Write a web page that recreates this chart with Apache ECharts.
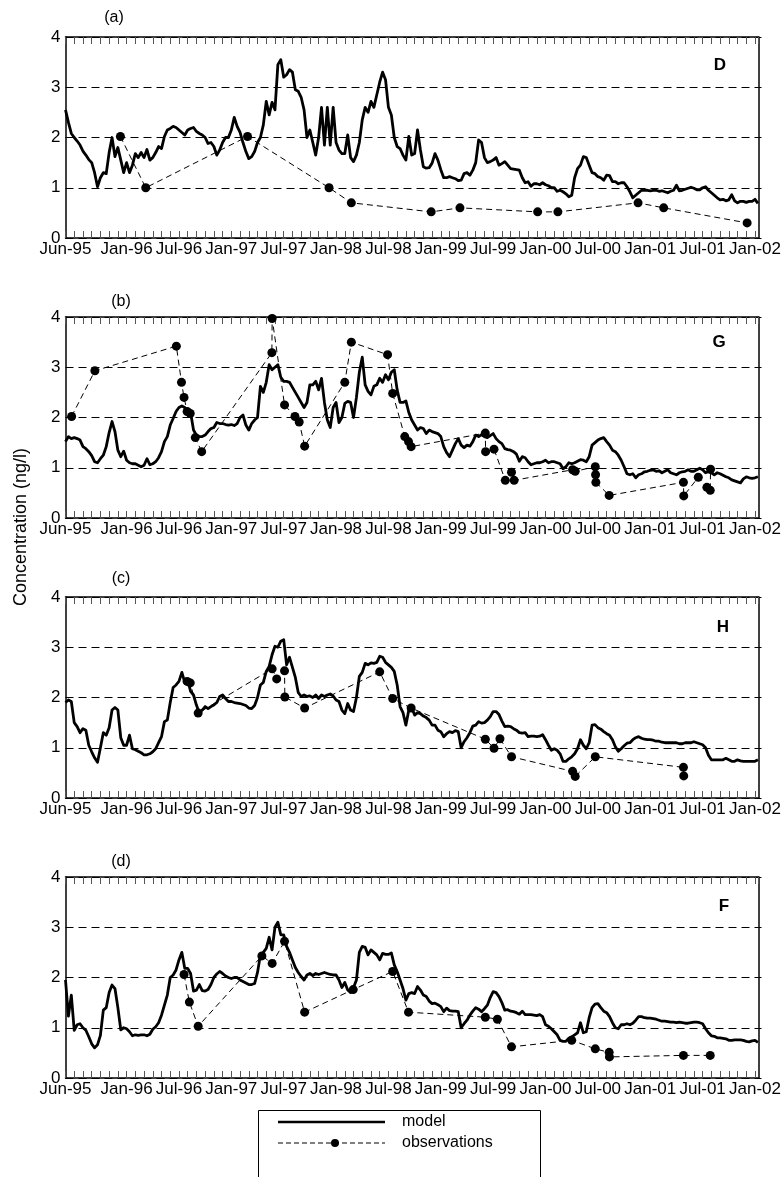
<!DOCTYPE html>
<html><head><meta charset="utf-8">
<script src="https://cdn.jsdelivr.net/npm/echarts@6/dist/echarts.min.js"></script>
<style>html,body{margin:0;padding:0;background:#fff}#c{width:784px;height:1177px}</style>
</head><body><div id="c"></div>
<script>
// ---------- data ----------
const xTickLabels = ['Jun-95','Jan-96','Jul-96','Jan-97','Jul-97','Jan-98','Jul-98','Jan-99','Jul-99','Jan-00','Jul-00','Jan-01','Jul-01','Jan-02'];
const yTickValues = [0, 1, 2, 3, 4];
const panelTags = ['(a)', '(b)', '(c)', '(d)'];
const siteNames = ['D', 'G', 'H', 'F'];
const legendNames = ['model', 'observations'];
const yAxisTitle = 'Concentration (ng/l)';

// model: one value every 1/3 month starting 1 Jun 1995
const modelStartDate = '1995-06-01';
const modelStepMonths = 1 / 3;
const modelD = [
2.55,2.3,2.08,2.0,1.93,1.85,1.73,1.65,1.56,1.5,
1.3,1.02,1.2,1.3,1.28,1.7,2.0,1.62,1.8,1.55,
1.3,1.5,1.3,1.45,1.68,1.6,1.7,1.6,1.76,1.55,
1.6,1.7,1.82,1.78,2.02,2.15,2.18,2.22,2.2,2.15,
2.1,2.05,2.15,2.18,2.2,2.12,2.08,2.05,2.0,1.88,
1.9,1.82,1.65,1.75,1.9,2.0,2.0,2.15,2.4,2.22,
2.1,1.9,1.72,1.58,1.62,1.72,1.9,2.0,2.25,2.72,
2.45,2.7,2.55,3.45,3.55,3.2,3.25,3.35,3.3,2.95,
2.92,2.8,2.55,2.0,2.15,1.9,1.65,2.0,2.6,1.85,
2.6,1.85,2.6,1.9,1.75,1.68,1.68,2.05,1.6,1.52,
1.65,1.9,2.35,2.6,2.5,2.72,2.6,2.85,3.1,3.3,
3.15,2.6,2.45,2.0,1.82,1.78,1.65,1.55,2.02,1.65,
1.68,2.15,1.75,1.42,1.39,1.4,1.49,1.68,1.55,1.36,
1.2,1.2,1.22,1.2,1.18,1.14,1.15,1.28,1.3,1.25,
1.35,1.5,1.95,1.9,1.6,1.5,1.52,1.55,1.6,1.45,
1.48,1.52,1.45,1.38,1.37,1.36,1.35,1.2,1.1,1.12,
1.03,1.08,1.08,1.06,1.1,1.06,1.04,1.0,1.0,0.93,
0.95,0.92,0.88,0.82,0.85,1.2,1.38,1.45,1.62,1.6,
1.45,1.3,1.28,1.22,1.2,1.15,1.25,1.24,1.12,1.12,
1.08,1.1,1.1,1.02,0.92,0.8,0.85,0.9,0.95,0.95,
0.95,0.94,0.95,0.95,0.93,0.94,0.92,0.9,0.93,0.95,
1.05,0.94,0.95,0.97,0.99,1.01,0.99,0.96,0.96,1.0,
1.02,0.95,0.9,0.85,0.8,0.76,0.77,0.74,0.76,0.86,
0.74,0.7,0.73,0.73,0.71,0.73,0.73,0.77,0.69];
const modelG = [
1.52,1.62,1.58,1.6,1.58,1.55,1.42,1.38,1.32,1.24,
1.12,1.1,1.18,1.25,1.42,1.7,1.92,1.72,1.35,1.22,
1.33,1.15,1.1,1.08,1.08,1.05,1.02,1.05,1.18,1.06,
1.08,1.12,1.2,1.32,1.52,1.62,1.85,1.98,2.12,2.2,
2.23,2.2,2.15,2.1,1.75,1.65,1.62,1.62,1.65,1.72,
1.78,1.8,1.9,1.88,1.88,1.86,1.85,1.86,1.84,1.88,
2.0,2.05,1.85,1.75,1.88,1.95,2.0,2.62,2.5,2.7,
3.05,2.95,3.0,3.05,2.8,2.72,2.72,2.7,2.6,2.5,
2.4,2.3,2.2,2.3,2.65,2.65,2.72,2.55,2.78,2.3,
1.95,1.8,2.2,2.3,1.9,2.0,2.28,2.32,2.3,2.0,
2.4,2.9,3.2,2.65,2.52,2.45,2.62,2.65,2.78,2.7,
2.85,2.75,2.9,2.95,2.55,2.3,2.3,2.33,2.1,1.95,
1.85,1.75,1.8,1.78,1.68,1.75,1.72,1.7,1.68,1.62,
1.42,1.3,1.22,1.35,1.48,1.58,1.45,1.4,1.45,1.43,
1.52,1.65,1.62,1.66,1.62,1.6,1.64,1.68,1.58,1.52,
1.48,1.38,1.36,1.35,1.32,1.27,1.13,1.22,1.2,1.12,
1.06,1.08,1.1,1.1,1.12,1.15,1.1,1.12,1.12,1.1,
1.08,0.98,1.02,1.1,1.08,1.1,1.13,1.16,1.15,1.12,
1.22,1.45,1.5,1.55,1.58,1.6,1.52,1.45,1.35,1.32,
1.25,1.15,1.02,0.88,0.86,0.88,0.8,0.86,0.88,0.92,
0.93,0.95,0.96,0.93,0.94,0.9,0.93,0.96,0.9,0.88,
0.86,0.9,0.92,0.93,0.96,0.93,0.93,0.96,0.99,0.96,
0.9,0.92,0.9,0.86,0.9,0.88,0.85,0.82,0.8,0.76,
0.74,0.72,0.7,0.78,0.82,0.8,0.79,0.8,0.82];
const modelH = [
1.9,1.95,1.92,1.5,1.42,1.3,1.38,1.35,1.05,0.92,
0.8,0.71,1.0,1.3,1.25,1.4,1.75,1.8,1.75,1.2,
1.05,1.05,1.25,0.98,0.96,0.93,0.9,0.86,0.86,0.88,
0.92,0.98,1.1,1.22,1.52,1.55,1.9,2.2,2.25,2.32,
2.5,2.3,2.35,2.12,2.05,1.85,1.69,1.75,1.82,1.78,
1.82,1.85,1.9,2.02,2.05,1.98,1.92,1.92,1.9,1.89,
1.88,1.86,1.84,1.79,1.78,1.84,2.0,2.25,2.3,2.52,
2.62,2.85,3.02,3.0,3.12,3.15,2.65,2.8,2.6,2.4,
2.1,2.02,2.05,2.02,2.03,2.0,2.05,1.98,2.05,2.02,
2.05,2.07,2.03,1.95,1.92,1.75,1.68,1.88,1.75,1.72,
2.0,2.42,2.5,2.68,2.65,2.69,2.68,2.7,2.82,2.8,
2.7,2.65,2.6,2.52,2.25,1.82,1.7,1.45,1.75,1.8,
1.65,1.7,1.68,1.63,1.6,1.55,1.45,1.45,1.35,1.32,
1.22,1.28,1.32,1.3,1.34,1.32,1.0,1.12,1.2,1.3,
1.43,1.45,1.52,1.49,1.5,1.55,1.62,1.72,1.72,1.66,
1.53,1.42,1.43,1.42,1.38,1.35,1.3,1.29,1.3,1.22,
1.23,1.23,1.22,1.23,1.26,1.16,1.05,0.95,0.98,0.95,
0.88,0.73,0.73,0.78,0.82,0.88,0.98,1.16,1.05,0.98,
1.1,1.45,1.46,1.4,1.37,1.32,1.28,1.25,1.16,1.02,
0.93,0.98,1.04,1.09,1.1,1.16,1.2,1.22,1.19,1.17,
1.16,1.16,1.15,1.13,1.13,1.11,1.1,1.1,1.1,1.1,
1.1,1.08,1.08,1.1,1.1,1.1,1.12,1.1,1.08,1.06,
1.0,0.85,0.76,0.76,0.76,0.76,0.76,0.79,0.76,0.73,
0.73,0.76,0.74,0.73,0.73,0.73,0.73,0.73,0.76];
const modelF = [
1.95,1.23,1.65,0.95,1.06,1.08,1.0,0.95,0.82,0.68,
0.6,0.66,0.85,1.35,1.4,1.7,1.85,1.78,1.4,0.96,
1.0,0.98,0.92,0.84,0.86,0.85,0.86,0.86,0.84,0.87,
0.97,1.02,1.1,1.25,1.45,1.65,2.0,2.05,2.15,2.35,
2.5,2.18,2.18,2.08,1.73,1.75,1.86,1.74,1.73,1.76,
1.86,2.0,2.07,2.12,2.08,2.03,2.0,1.98,2.0,2.0,
1.95,1.92,1.89,1.86,1.86,1.88,2.1,2.45,2.5,2.58,
2.8,2.55,3.0,3.1,2.85,2.85,2.62,2.5,2.35,2.2,
2.1,2.02,1.95,2.05,2.08,2.04,2.08,2.06,2.08,2.1,
2.08,2.06,2.05,2.05,1.95,1.8,1.9,1.75,1.7,1.8,
1.95,2.5,2.62,2.6,2.45,2.55,2.5,2.45,2.35,2.48,
2.46,2.46,2.49,2.25,2.12,1.95,1.78,1.55,1.68,1.7,
1.68,1.82,1.75,1.65,1.62,1.53,1.48,1.49,1.46,1.42,
1.32,1.39,1.34,1.33,1.33,1.32,1.0,1.08,1.15,1.25,
1.33,1.4,1.37,1.32,1.38,1.45,1.6,1.72,1.7,1.62,
1.5,1.35,1.36,1.33,1.32,1.3,1.27,1.33,1.26,1.26,
1.26,1.25,1.24,1.26,1.22,1.06,1.03,0.98,0.92,0.86,
0.75,0.73,0.73,0.79,0.82,0.86,0.9,1.1,0.9,0.92,
1.2,1.4,1.47,1.48,1.4,1.33,1.3,1.22,1.1,1.0,
0.98,1.06,1.06,1.08,1.06,1.09,1.15,1.22,1.22,1.2,
1.19,1.19,1.18,1.17,1.15,1.13,1.13,1.12,1.11,1.11,
1.1,1.11,1.1,1.09,1.09,1.1,1.11,1.11,1.1,1.08,
0.98,0.9,0.84,0.83,0.8,0.8,0.79,0.78,0.75,0.75,
0.76,0.76,0.76,0.75,0.73,0.72,0.74,0.75,0.71];

// observations
const obsDatesD = ['1995-12-10','1996-03-07','1997-02-25','1997-12-07','1998-02-22','1998-11-28','1999-03-07','1999-12-04','2000-02-13','2000-11-19','2001-02-16','2001-12-04'];
const obsValuesD = [2.02,1.0,2.02,1.0,0.7,0.52,0.6,0.52,0.52,0.7,0.6,0.3];

const obsDatesG = ['1995-06-22','1995-09-12','1996-06-22','1996-07-10','1996-07-19','1996-07-30','1996-08-10','1996-08-28','1996-09-19','1997-05-21','1997-05-22','1997-07-04','1997-08-10','1997-08-25','1997-09-13','1998-02-01','1998-02-22','1998-06-28','1998-07-16','1998-08-28','1998-09-10','1998-09-19','1999-06-04','1999-06-05','1999-07-04','1999-08-13','1999-09-04','1999-09-13','2000-04-04','2000-04-13','2000-06-22','2000-06-23','2000-06-24','2000-08-10','2001-04-25','2001-04-26','2001-06-16','2001-07-16','2001-07-28','2001-07-29'];
const obsValuesG = [2.02,2.93,3.42,2.7,2.4,2.12,2.08,1.6,1.32,3.29,3.97,2.25,2.02,1.91,1.43,2.7,3.5,3.25,2.48,1.62,1.52,1.42,1.69,1.32,1.37,0.75,0.91,0.75,0.96,0.93,1.02,0.86,0.71,0.45,0.71,0.44,0.81,0.61,0.55,0.97];

const obsDatesH = ['1996-07-30','1996-08-10','1996-09-07','1997-05-22','1997-06-07','1997-07-04','1997-07-05','1997-09-13','1998-06-01','1998-07-16','1998-09-19','1999-06-04','1999-07-04','1999-07-25','1999-09-04','2000-04-04','2000-04-13','2000-06-22','2001-04-25','2001-04-26'];
const obsValuesH = [2.32,2.29,1.69,2.57,2.37,2.53,2.01,1.79,2.51,1.98,1.79,1.17,0.99,1.18,0.82,0.53,0.43,0.82,0.61,0.44];

const obsDatesF = ['1996-07-19','1996-08-07','1996-09-07','1997-04-16','1997-05-22','1997-07-04','1997-09-13','1998-02-28','1998-07-16','1998-09-10','1999-06-04','1999-07-16','1999-09-04','2000-04-01','2000-06-22','2000-08-10','2000-08-11','2001-04-25','2001-07-28'];
const obsValuesF = [2.06,1.51,1.03,2.43,2.28,2.72,1.31,1.76,2.12,1.31,1.21,1.17,0.62,0.75,0.58,0.51,0.42,0.45,0.45];

const modelSeries = [modelD, modelG, modelH, modelF];
const obsDates = [obsDatesD, obsDatesG, obsDatesH, obsDatesF];
const obsValues = [obsValuesD, obsValuesG, obsValuesH, obsValuesF];

// ---------- helpers ----------
const MONTHS = ['Jan','Feb','Mar','Apr','May','Jun','Jul','Aug','Sep','Oct','Nov','Dec'];
const base = new Date(modelStartDate + 'T00:00:00Z');
const baseY = base.getUTCFullYear(), baseM = base.getUTCMonth();
function dateToMonth(s) {
  const [y, m, d] = s.split('-').map(Number);
  const dim = new Date(Date.UTC(y, m, 0)).getUTCDate();
  return (y - baseY) * 12 + (m - 1 - baseM) + (d - 1) / dim;
}
function labelToMonth(l) {
  const [mn, yy] = l.split('-');
  const y = 1900 + Number(yy) + (Number(yy) < 50 ? 100 : 0);
  return (y - baseY) * 12 + (MONTHS.indexOf(mn) - baseM);
}
const labelMap = {};
xTickLabels.forEach(l => { labelMap[labelToMonth(l)] = l; });
const X_MAX = labelToMonth(xTickLabels[xTickLabels.length - 1]) + 0.4;

// ---------- layout ----------
const FONT = "'Liberation Sans', Arial, sans-serif";
const gridLeft = 65.5, gridRight = 25, gridH = 201;
const gridTops = [37, 317, 597, 877];
const tagPos = [[114, 18], [121, 302], [121, 579], [121, 862]];
const sitePos = [[720, 65], [719, 342], [723, 627], [724, 906]];

const grid = [], xAxis = [], yAxis = [], series = [], graphic = [];
gridTops.forEach((top, k) => {
  grid.push({ left: gridLeft, right: gridRight, top: top, height: gridH });
  // bottom axis with labels
  xAxis.push({
    type: 'value', gridIndex: k, position: 'bottom', min: 0, max: X_MAX, interval: 1,
    axisLine: { show: true, onZero: false, lineStyle: { color: '#000', width: 1.5 } },
    axisTick: { show: true, inside: true, length: 7, lineStyle: { color: '#555', width: 1 } },
    axisLabel: {
      show: true, margin: 3, color: '#000', fontSize: 17, fontFamily: FONT,
      showMinLabel: true, showMaxLabel: false,
      formatter: v => { const r = Math.round(v); return Math.abs(v - r) < 1e-6 && labelMap[r] ? labelMap[r] : ''; }
    },
    splitLine: { show: false }
  });
  // top axis (ticks only)
  xAxis.push({
    type: 'value', gridIndex: k, position: 'top', min: 0, max: X_MAX, interval: 1,
    axisLine: { show: true, onZero: false, lineStyle: { color: '#000', width: 1.5 } },
    axisTick: { show: true, inside: true, length: 7, lineStyle: { color: '#555', width: 1 } },
    axisLabel: { show: false }, splitLine: { show: false }
  });
  yAxis.push({
    type: 'value', gridIndex: k, position: 'left', min: yTickValues[0], max: yTickValues[yTickValues.length - 1], interval: 1,
    axisLine: { show: true, onZero: false, lineStyle: { color: '#000', width: 1.5 } },
    axisTick: { show: false },
    axisLabel: { show: true, margin: 5, color: '#000', fontSize: 17, fontFamily: FONT },
    splitLine: { show: true, lineStyle: { color: '#000', width: 1, type: [8, 5] } }
  });
  yAxis.push({
    type: 'value', gridIndex: k, position: 'right', min: yTickValues[0], max: yTickValues[yTickValues.length - 1], interval: 1,
    axisLine: { show: true, onZero: false, lineStyle: { color: '#000', width: 1.5 } },
    axisTick: { show: true, inside: false, length: 3, lineStyle: { color: '#000' } },
    axisLabel: { show: false }, splitLine: { show: false }
  });

  const md = modelSeries[k].map((v, i) => [i * modelStepMonths, v]);
  series.push({
    name: legendNames[0], type: 'line', xAxisIndex: 2 * k, yAxisIndex: 2 * k,
    data: md, showSymbol: false, symbol: 'none', z: 3,
    lineStyle: { color: '#000', width: 2.8, join: 'round' }
  });
  const od = obsDates[k].map((d, i) => [dateToMonth(d), obsValues[k][i]]);
  series.push({
    name: legendNames[1], type: 'line', xAxisIndex: 2 * k, yAxisIndex: 2 * k,
    data: od, symbol: 'circle', symbolSize: 9, showSymbol: true, z: 4,
    itemStyle: { color: '#000' },
    lineStyle: { color: '#000', width: 1, type: [6, 4] }
  });

  graphic.push({ type: 'text', x: tagPos[k][0], y: tagPos[k][1],
    style: { text: panelTags[k], font: '16px ' + FONT, fill: '#000', textAlign: 'center', textVerticalAlign: 'middle', verticalAlign: 'middle' } });
  graphic.push({ type: 'text', x: sitePos[k][0], y: sitePos[k][1],
    style: { text: siteNames[k], font: 'bold 17px ' + FONT, fill: '#000', textAlign: 'center', textVerticalAlign: 'middle', verticalAlign: 'middle' } });
});

// y-axis title
graphic.push({ type: 'text', x: 21, y: 527, rotation: Math.PI / 2,
  style: { text: yAxisTitle, font: '18px ' + FONT, fill: '#000', textAlign: 'center', textVerticalAlign: 'middle', verticalAlign: 'middle' } });

// legend box
graphic.push({ type: 'rect', shape: { x: 258.5, y: 1110.5, width: 282, height: 90 }, style: { fill: '#fff', stroke: '#000', lineWidth: 1 }, z: 10 });
graphic.push({ type: 'line', shape: { x1: 278, y1: 1122, x2: 385, y2: 1122 }, style: { stroke: '#000', lineWidth: 2.5 }, z: 11 });
graphic.push({ type: 'line', shape: { x1: 278, y1: 1143, x2: 385, y2: 1143 }, style: { stroke: '#000', lineWidth: 1, lineDash: [5, 3] }, z: 11 });
graphic.push({ type: 'circle', shape: { cx: 335, cy: 1143, r: 4 }, style: { fill: '#000' }, z: 11 });
graphic.push({ type: 'text', x: 402, y: 1122, style: { text: legendNames[0], font: '16px ' + FONT, fill: '#000', textVerticalAlign: 'middle', verticalAlign: 'middle' }, z: 11 });
graphic.push({ type: 'text', x: 402, y: 1143, style: { text: legendNames[1], font: '16px ' + FONT, fill: '#000', textVerticalAlign: 'middle', verticalAlign: 'middle' }, z: 11 });

const chart = echarts.init(document.getElementById('c'), null, { renderer: 'canvas' });
chart.setOption({
  animation: false,
  backgroundColor: '#fff',
  grid, xAxis, yAxis, series, graphic
});
</script>
</body></html>
